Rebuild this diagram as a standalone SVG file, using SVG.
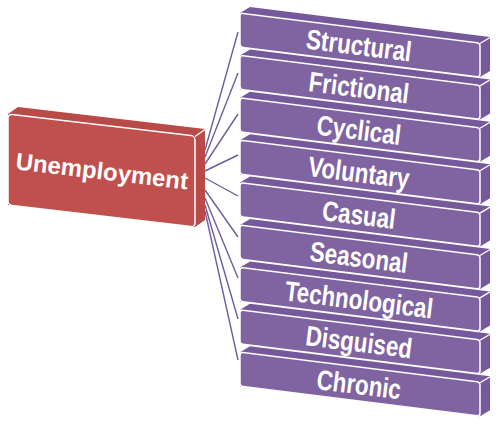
<svg xmlns="http://www.w3.org/2000/svg" width="500" height="425" viewBox="0 0 500 425">
<defs>
<style>
.pback{fill:#76599a;}
.pfront{fill:#8064a2;stroke:#ffffff;stroke-width:1.5;}
.rback{fill:#b84a47;}
.rfront{fill:#c0504d;stroke:#ffffff;stroke-width:1.5;}
.lbl{font-family:"Liberation Sans",Arial,sans-serif;font-weight:bold;font-size:28px;fill:#ffffff;text-anchor:middle;}
.main{font-family:"Liberation Sans",Arial,sans-serif;font-weight:bold;font-size:24px;fill:#ffffff;text-anchor:middle;}
.conn line{stroke:#6e5c9e;stroke-width:1.4;}
</style>
<g id="pbox">
<polygon class="pback" points="0,0 10,-7.25 250,-7.25 250,26.75 240,34 0,34"/>
<line x1="240" y1="0.5" x2="250" y2="-6.75" stroke="#ffffff" stroke-width="1.2"/>
<rect class="pfront" x="0" y="0" width="240" height="34" rx="3"/>
</g>
</defs>
<rect width="500" height="425" fill="#ffffff"/>
<g id="connectors" class="conn">
<line x1="205" y1="150" x2="238" y2="32"/>
<line x1="205" y1="157" x2="238" y2="73"/>
<line x1="205" y1="164" x2="238" y2="114"/>
<line x1="205" y1="171" x2="238" y2="155"/>
<line x1="205" y1="178" x2="238" y2="196"/>
<line x1="205" y1="190" x2="238" y2="237"/>
<line x1="205" y1="198" x2="238" y2="278"/>
<line x1="205" y1="205" x2="238" y2="319"/>
<line x1="205" y1="211" x2="238" y2="360"/>
</g>
<g id="unemployment">
<g transform="matrix(1,0.118,0,1,8,114)">
<polygon class="rback" points="0,0 10,-8.2 197,-8.2 197,82.8 187,91 0,91"/>
<line x1="187" y1="0.5" x2="197" y2="-7.7" stroke="#ffffff" stroke-width="1.2"/>
<rect class="rfront" x="0" y="0" width="187" height="91" rx="4"/>
</g>
<text class="main" transform="translate(102,171) rotate(6.7)" x="0" y="8.5">Unemployment</text>
</g>
<g id="structural">
<use href="#pbox" transform="matrix(1,0.125,0,1,240,13)"/>
<text class="lbl" transform="translate(359,45) rotate(7.1) scale(0.8,1)" y="10">Structural</text>
</g>
<g id="frictional">
<use href="#pbox" transform="matrix(1,0.125,0,1,240,55.4)"/>
<text class="lbl" transform="translate(359,87.4) rotate(7.1) scale(0.8,1)" y="10">Frictional</text>
</g>
<g id="cyclical">
<use href="#pbox" transform="matrix(1,0.125,0,1,240,97.8)"/>
<text class="lbl" transform="translate(359,129.8) rotate(7.1) scale(0.8,1)" y="10">Cyclical</text>
</g>
<g id="voluntary">
<use href="#pbox" transform="matrix(1,0.125,0,1,240,140.2)"/>
<text class="lbl" transform="translate(359,172.2) rotate(7.1) scale(0.8,1)" y="10">Voluntary</text>
</g>
<g id="casual">
<use href="#pbox" transform="matrix(1,0.125,0,1,240,182.6)"/>
<text class="lbl" transform="translate(359,214.6) rotate(7.1) scale(0.8,1)" y="10">Casual</text>
</g>
<g id="seasonal">
<use href="#pbox" transform="matrix(1,0.125,0,1,240,225)"/>
<text class="lbl" transform="translate(359,257) rotate(7.1) scale(0.8,1)" y="10">Seasonal</text>
</g>
<g id="technological">
<use href="#pbox" transform="matrix(1,0.125,0,1,240,267.4)"/>
<text class="lbl" transform="translate(359,299.4) rotate(7.1) scale(0.8,1)" y="10">Technological</text>
</g>
<g id="disguised">
<use href="#pbox" transform="matrix(1,0.125,0,1,240,309.8)"/>
<text class="lbl" transform="translate(359,341.8) rotate(7.1) scale(0.8,1)" y="10">Disguised</text>
</g>
<g id="chronic">
<use href="#pbox" transform="matrix(1,0.125,0,1,240,352.2)"/>
<text class="lbl" transform="translate(359,384.2) rotate(7.1) scale(0.8,1)" y="10">Chronic</text>
</g>
</svg>
